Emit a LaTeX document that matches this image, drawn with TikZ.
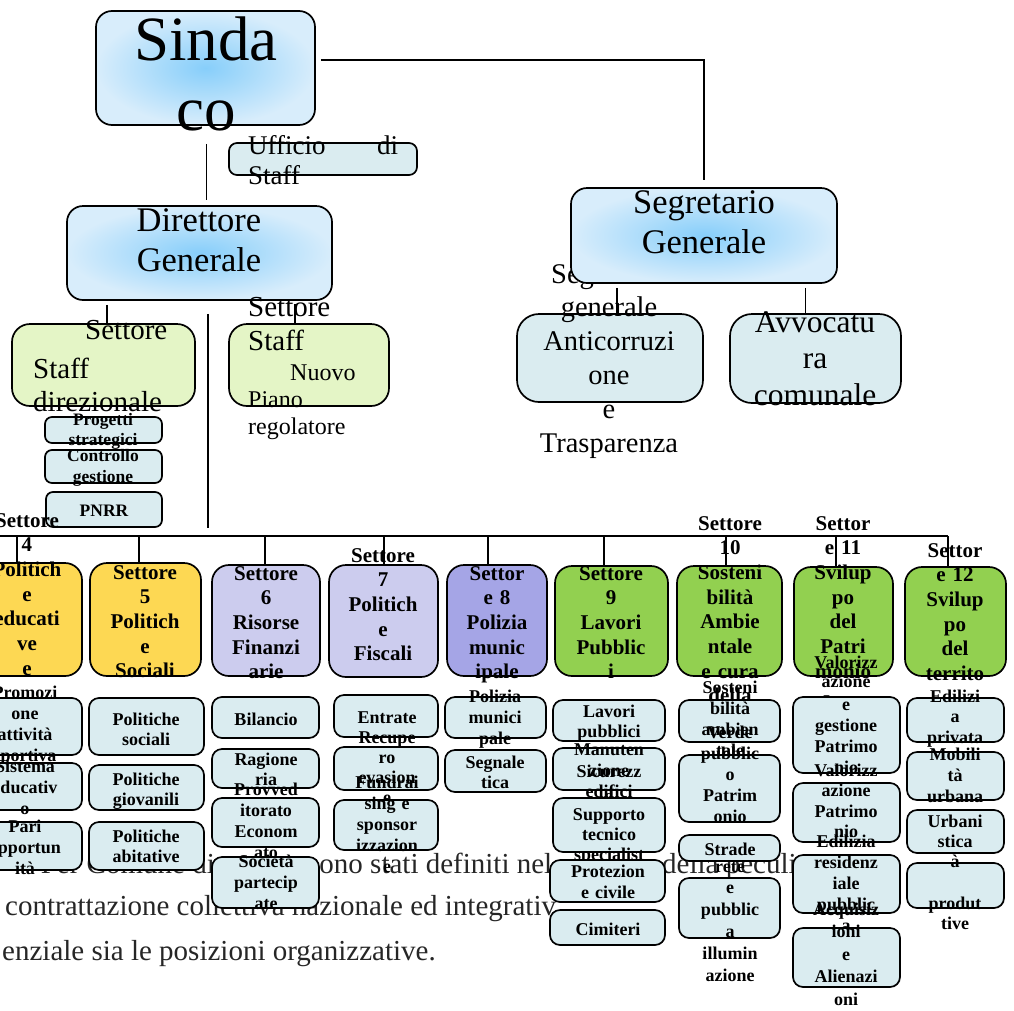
\documentclass[tikz,border=0pt]{standalone}
\usepackage{fontspec}
\setmainfont{Liberation Serif}
\usepackage{tikz}

\definecolor{skyin}{RGB}{135,206,250}
\definecolor{skyout}{RGB}{216,237,251}
\definecolor{paleblue}{RGB}{218,236,240}
\definecolor{palegreen}{RGB}{228,245,198}
\definecolor{gold}{RGB}{253,216,83}
\definecolor{lilac}{RGB}{204,204,238}
\definecolor{periwinkle}{RGB}{165,165,230}
\definecolor{leaf}{RGB}{146,208,80}

\tikzset{
  orgbox/.style={draw, line width=1.7pt, rounded corners=12pt, inner sep=0pt},
  topbox/.style={orgbox, rounded corners=16pt, inner color=skyin, outer color=skyout},
  unitbox/.style={orgbox, rounded corners=10pt, fill=paleblue},
  staffbox/.style={orgbox, rounded corners=18pt, fill=palegreen},
  sectbox/.style={orgbox, rounded corners=17pt},
  lines/.style={text width=220pt, inner sep=0pt, anchor=base},
  bigtxt/.style={lines, font=\fontsize{34.5}{40}\selectfont, align=center},
  secttxt/.style={lines, font=\bfseries\fontsize{21}{24.7}\selectfont, align=center},
  unittxt/.style={lines, font=\bfseries\fontsize{18}{21}\selectfont, align=center},
  lefttxt/.style={lines, text width=170pt, align=left, anchor=base west},
  bgtxt/.style={font=\fontsize{29}{45}\selectfont, text=black!85, inner sep=0pt, anchor=base west},
  wire/.style={line width=1.5pt},
}

% box from (x1,y1) to (x2,y2), pixel units
\newcommand{\orgnode}[6]{%
  \node[#1, minimum width={(#4)-(#2)}, minimum height={(#5)-(#3)}] (#6)
    at ({((#2)+(#4))/2},{((#3)+(#5))/2}) {};}

\begin{document}
\begin{tikzpicture}[x=1pt,y=-1pt]
\useasboundingbox (0,0) rectangle (1014,1010);

% testo sotto
\node[bgtxt, anchor=base east] (bg1a) at (215,873) {Per Comune di};
\node[bgtxt] (bg1b) at (308,873) {sono stati definiti nel};
\node[bgtxt] (bg1c) at (662,873) {della peculi};
\node[bgtxt] (bg2a) at (5,915) {contrattazione collettiva nazionale ed integrativ};
\node[bgtxt] (bg3a) at (2,960) {enziale sia le posizioni organizzative.};

% vertice
\orgnode{topbox}{96}{11}{315}{125}{sindaco}
\node[bigtxt, font=\fontsize{63}{70}\selectfont] (sindacot) at (206,60) {Sinda\\co};

\orgnode{unitbox, rounded corners=8pt}{229}{143}{417}{175}{ufficio}
\node[lefttxt, text width=150pt, font=\fontsize{27}{30}\selectfont]
  (ufficiot) at (248,154) {Ufficio\hfill di\\Staff};

\orgnode{topbox}{67}{206}{332}{300}{dg}
\node[bigtxt] (dgt) at (199,231) {Direttore\\Generale};

\orgnode{unitbox, rounded corners=22pt}{517}{314}{703}{402}{anti}
\node[bigtxt, font=\fontsize{28.5}{33.8}\selectfont] (antit) at (609,283)
  {Segreteria\\generale\\Anticorruzi\\one\\e\\Trasparenza};

\orgnode{topbox}{571}{188}{837}{283}{sg}
\node[bigtxt] (sgt) at (704,213) {Segretario\\Generale};

\orgnode{unitbox, rounded corners=22pt}{730}{314}{901}{403}{avv}
\node[bigtxt, font=\fontsize{31.5}{36.5}\selectfont] (avvt) at (815,332) {Avvocatu\\ra\\comunale};

% staff
\orgnode{staffbox}{12}{324}{195}{406}{ssd}
\node[lefttxt, font=\fontsize{29}{33}\selectfont]
  (ssdt) at (33,339) {\hspace*{52pt}Settore\\[6pt]Staff\\direzionale};

\orgnode{staffbox}{229}{324}{389}{406}{ssp}
\node[lefttxt, font=\fontsize{29}{34}\selectfont] (sspt) at (248,316) {Settore\\Staff};
\node[lefttxt, font=\fontsize{24}{27}\selectfont] (sspu) at (248,380) {\hspace*{42pt}Nuovo\\Piano\\regolatore};

\orgnode{unitbox, rounded corners=7pt}{45}{417}{162}{443}{prog}
\node[unittxt, font=\bfseries\fontsize{17.5}{20}\selectfont] (progt) at (103,425) {Progetti\\strategici};
\orgnode{unitbox, rounded corners=7pt}{45}{450}{162}{483}{ctrl}
\node[unittxt, font=\bfseries\fontsize{17.5}{21}\selectfont] (ctrlt) at (103,461) {Controllo\\gestione};
\orgnode{unitbox, rounded corners=7pt}{46}{492}{162}{527}{pnrr}
\node[unittxt, font=\bfseries\fontsize{17.5}{21}\selectfont] (pnrrt) at (104,516) {PNRR};

% settori
\foreach \n/\a/\b/\c/\d/\col in {s4/-28/563/82/676/gold, s5/90/563/201/676/gold,
    s6/212/565/320/676/lilac, s7/329/565/438/677/lilac, s8/447/565/547/676/periwinkle,
    s9/555/566/668/676/leaf, s10/677/566/782/676/leaf, s11/794/567/893/676/leaf,
    s12/905/567/1006/676/leaf}
  {\orgnode{sectbox, fill=\col}{\a}{\b}{\c}{\d}{\n}}

\node[secttxt] (s4t) at (27,527) {Settore\\4\\Politich\\e\\educati\\ve\\e};
\node[secttxt] (s5t) at (145,579) {Settore\\5\\Politich\\e\\Sociali};
\node[secttxt] (s6t) at (266,580) {Settore\\6\\Risorse\\Finanzi\\arie};
\node[secttxt] (s7t) at (383,562) {Settore\\7\\Politich\\e\\Fiscali};
\node[secttxt] (s8t) at (497,580) {Settor\\e 8\\Polizia\\munic\\ipale};
\node[secttxt] (s9t) at (611,580) {Settore\\9\\Lavori\\Pubblic\\i};
\node[secttxt] (s10t) at (730,530) {Settore\\10\\Sosteni\\bilità\\Ambie\\ntale\\e cura\\della};
\node[secttxt] (s11t) at (843,530) {Settor\\e 11\\Svilup\\po\\del\\Patri\\monio};
\node[secttxt] (s12t) at (955,557) {Settor\\e 12\\Svilup\\po\\del\\territo};

% uffici settore 4
\orgnode{unitbox}{-28}{698}{82}{755}{s4a}
\node[unittxt] (s4at) at (25,698) {Promozi\\one\\attività\\sportiva};
\orgnode{unitbox}{-28}{763}{82}{810}{s4b}
\node[unittxt] (s4bt) at (25,772) {Sistema\\educativ\\o};
\orgnode{unitbox}{-28}{822}{82}{870}{s4c}
\node[unittxt] (s4ct) at (25,832) {Pari\\opportun\\ità};

% uffici settore 5
\orgnode{unitbox}{89}{698}{204}{755}{s5a}
\node[unittxt, font=\bfseries\fontsize{18}{20}\selectfont] (s5at) at (146,725) {Politiche\\sociali};
\orgnode{unitbox}{89}{765}{204}{810}{s5b}
\node[unittxt, font=\bfseries\fontsize{18}{20}\selectfont] (s5bt) at (146,785) {Politiche\\giovanili};
\orgnode{unitbox}{89}{822}{204}{870}{s5c}
\node[unittxt, font=\bfseries\fontsize{18}{20}\selectfont] (s5ct) at (146,842) {Politiche\\abitative};

% uffici settore 6
\orgnode{unitbox}{212}{697}{319}{738}{s6a}
\node[unittxt] (s6at) at (266,725) {Bilancio};
\orgnode{unitbox}{212}{749}{319}{788}{s6b}
\node[unittxt, font=\bfseries\fontsize{18}{20}\selectfont] (s6bt) at (266,765) {Ragione\\ria};
\orgnode{unitbox}{212}{798}{319}{847}{s6c}
\node[unittxt] (s6ct) at (266,795) {Provved\\itorato\\Econom\\ato};
\orgnode{unitbox}{212}{857}{319}{908}{s6d}
\node[unittxt] (s6dt) at (266,867) {Società\\partecip\\ate};

% uffici settore 7
\orgnode{unitbox}{334}{695}{438}{737}{s7a}
\node[unittxt] (s7at) at (387,723) {Entrate};
\orgnode{unitbox}{334}{747}{438}{790}{s7b}
\node[unittxt, font=\bfseries\fontsize{18}{20}\selectfont] (s7bt) at (387,743) {Recupe\\ro\\evasion\\e};
\orgnode{unitbox}{334}{800}{438}{850}{s7c}
\node[unittxt] (s7ct) at (387,788) {Fundrai\\sing e\\sponsor\\izzazion\\e};

% uffici settore 8
\orgnode{unitbox}{445}{697}{546}{738}{s8a}
\node[unittxt] (s8at) at (495,702) {Polizia\\munici\\pale};
\orgnode{unitbox}{445}{750}{546}{792}{s8b}
\node[unittxt, font=\bfseries\fontsize{18}{20}\selectfont] (s8bt) at (495,768) {Segnale\\tica};

% uffici settore 9
\orgnode{unitbox}{553}{700}{665}{741}{s9a}
\node[unittxt, font=\bfseries\fontsize{18}{20}\selectfont] (s9at) at (609,717) {Lavori\\pubblici};
\orgnode{unitbox}{553}{748}{665}{790}{s9b}
\node[unittxt] (s9bt) at (609,755) {Manuten\\zione\\edifici};
\node[unittxt] (s9bu) at (609,777) {Sicurezz\\a};
\orgnode{unitbox}{553}{798}{665}{852}{s9c}
\node[unittxt, font=\bfseries\fontsize{18}{20}\selectfont] (s9ct) at (609,820) {Supporto\\tecnico\\specialist\\ico};
\orgnode{unitbox}{550}{860}{665}{902}{s9d}
\node[unittxt] (s9dt) at (608,877) {Protezion\\e civile};
\orgnode{unitbox}{550}{910}{665}{945}{s9e}
\node[unittxt] (s9et) at (608,935) {Cimiteri};

% uffici settore 10
\orgnode{unitbox}{679}{700}{780}{742}{s10a}
\node[unittxt] (s10at) at (730,693) {Sosteni\\bilità\\ambien\\tale};
\orgnode{unitbox}{679}{755}{780}{822}{s10b}
\node[unittxt] (s10bt) at (730,738) {Verde\\pubblic\\o\\Patrim\\onio};
\orgnode{unitbox}{679}{835}{780}{861}{s10c}
\node[unittxt] (s10ct) at (730,855) {Strade};
\orgnode{unitbox}{679}{878}{780}{938}{s10d}
\node[unittxt, font=\bfseries\fontsize{18}{21.8}\selectfont] (s10dt) at (730,872) {rete\\e\\pubblic\\a\\illumin\\azione};

% uffici settore 11
\node[unittxt, font=\bfseries\fontsize{18}{19.5}\selectfont] (s11pre) at (846,668) {Valorizz\\azione\\Immo};
\orgnode{unitbox}{793}{697}{900}{773}{s11a}
\node[unittxt] (s11at) at (846,710) {e\\gestione\\Patrimo\\nio};
\orgnode{unitbox}{793}{783}{900}{842}{s11b}
\node[unittxt, font=\bfseries\fontsize{18}{20.5}\selectfont] (s11bt) at (846,776) {Valorizz\\azione\\Patrimo\\nio};
\orgnode{unitbox}{793}{855}{900}{913}{s11c}
\node[unittxt] (s11ct) at (846,847) {Edilizia\\residenz\\iale\\pubblic\\a};
\orgnode{unitbox}{793}{928}{900}{987}{s11d}
\node[unittxt, font=\bfseries\fontsize{18}{22.5}\selectfont] (s11dt) at (846,915) {Acquisiz\\ioni\\e\\Alienazi\\oni};

% uffici settore 12
\orgnode{unitbox}{907}{698}{1004}{742}{s12a}
\node[unittxt, font=\bfseries\fontsize{18}{20.5}\selectfont] (s12at) at (955,702) {Edilizi\\a\\privata};
\orgnode{unitbox}{907}{752}{1004}{800}{s12b}
\node[unittxt] (s12bt) at (955,760) {Mobili\\tà\\urbana};
\orgnode{unitbox}{907}{863}{1004}{908}{s12d}
\node[unittxt, font=\bfseries\fontsize{18}{20.7}\selectfont] (s12dt) at (955,847) {Attivit\\à\\[20.7pt]produt\\tive};
\orgnode{unitbox}{907}{810}{1004}{853}{s12c}
\node[unittxt, font=\bfseries\fontsize{18}{20}\selectfont] (s12ct) at (955,827) {Urbani\\stica};

% collegamenti
\coordinate (sgfoot) at ([yshift=-4]sg.south);
\coordinate (busL) at (0,536);
\coordinate (busR) at (948,536);
\coordinate (busend) at (208,528);
\draw[wire] ([xshift=5,yshift=8]sindaco.east) -| ([yshift=7]sg.north);
\draw[wire] ([xshift=1,yshift=-18]sindaco.south) -- ([xshift=1,yshift=5]sindaco.south |- dg.north);
\draw[wire] ([xshift=3.5,yshift=-4]dg.south -| ssd.north) -- ([xshift=3.5]ssd.north);
\draw[wire] ([xshift=-14,yshift=-3]dg.south -| ssp.north) -- ([xshift=-14]ssp.north);
\draw[wire] ([xshift=8.5,yshift=-13]dg.south) -- (busend);
\draw[wire] ([xshift=7]anti.north |- sgfoot) -- ([xshift=7]anti.north);
\draw[wire] ([xshift=-10]avv.north |- sgfoot) -- ([xshift=-10]avv.north);
\draw[wire] (busL) -- (busR);
\foreach \n/\x in {s4/17, s5/139, s6/265, s7/384, s8/488, s9/604, s10/726, s11/836, s12/948}
  \draw[wire] (\x,536) -- (\x,536 |- \n.north);

\end{tikzpicture}
\end{document}
